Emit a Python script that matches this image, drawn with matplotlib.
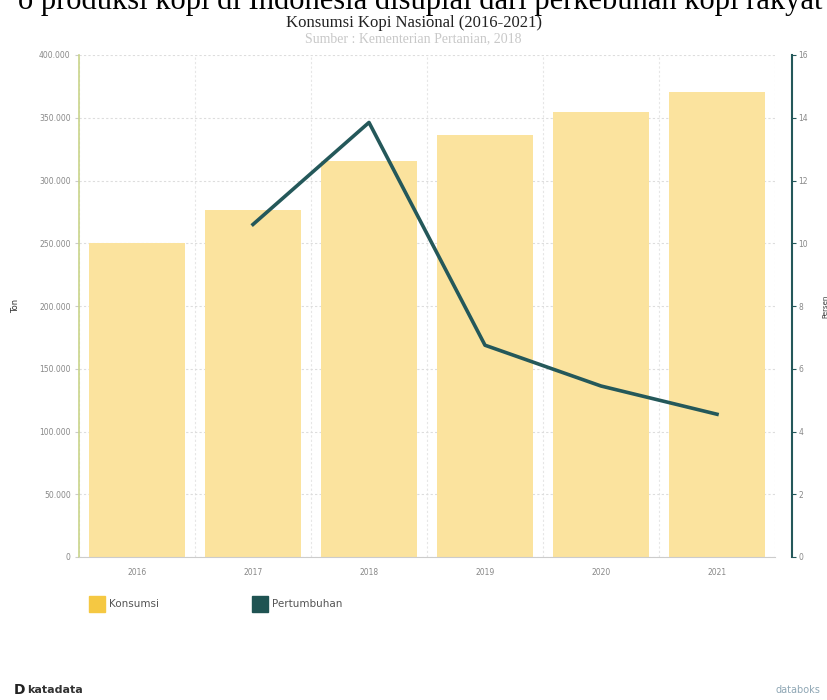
import matplotlib
matplotlib.use("Agg")
import matplotlib.pyplot as plt
from matplotlib.patches import Rectangle
import numpy as np

years = ["2016", "2017", "2018", "2019", "2020", "2021"]
konsumsi = [250000, 276500, 315500, 336500, 354500, 370500]
growth_years = ["2017", "2018", "2019", "2020", "2021"]
pertumbuhan = [10.6, 13.85, 6.75, 5.45, 4.55]
left_ticks = [0, 50000, 100000, 150000, 200000, 250000, 300000, 350000, 400000]
right_ticks = [0, 2, 4, 6, 8, 10, 12, 14, 16]

bar_color = "#FBE39E"
line_color = "#24585A"
tick_col = "#888888"

fig = plt.figure(figsize=(8.27, 7.0), dpi=100)
ax = fig.add_axes([79/827, 1-557/700, (775-79)/827, (557-55)/700])
x = np.arange(len(years))
ax.bar(x, konsumsi, width=0.83, color=bar_color, zorder=2)
ax.set_xlim(-0.5, len(years) - 0.5)
ax.set_ylim(0, 400000)
ax.set_yticks(left_ticks)
ax.set_yticklabels([f"{v:,}".replace(",", ".") for v in left_ticks])
ax.set_xticks(x)
ax.set_xticklabels(years)
ax.set_xticks(np.arange(-0.5, len(years), 1), minor=True)
ax.grid(axis="y", color="#dddddd", linestyle=(0, (2, 2)), linewidth=0.8, zorder=0)
ax.grid(axis="x", which="minor", color="#e6e6e6", linestyle=(0, (2, 2)), linewidth=0.8, zorder=0)
ax.tick_params(axis="x", which="both", length=0, pad=8, labelsize=5.5, labelcolor=tick_col)
ax.tick_params(axis="y", length=3, color="#cccccc", pad=3, labelsize=5.5, labelcolor=tick_col)
for s in ["top", "right"]:
    ax.spines[s].set_visible(False)
ax.spines["left"].set_color("#C9D48A")
ax.spines["left"].set_linewidth(1.2)
ax.spines["bottom"].set_color("#cccccc")
ax.spines["bottom"].set_linewidth(0.8)
ax.set_ylabel("Ton", fontsize=6, color="#333333", labelpad=14)

ax2 = ax.twinx()
gx = [years.index(y) for y in growth_years]
ax2.plot(gx, pertumbuhan, color=line_color, linewidth=2.6, zorder=5)
ax2.set_ylim(0, 16)
ax2.set_yticks(right_ticks)
ax2.set_yticklabels([str(v) for v in right_ticks])
for s in ["top", "left", "bottom"]:
    ax2.spines[s].set_visible(False)
ax2.spines["right"].set_position(("outward", 12))
ax2.spines["right"].set_color(line_color)
ax2.spines["right"].set_linewidth(1.5)
ax2.tick_params(axis="y", length=3, color=line_color, pad=2, labelsize=5.5, labelcolor=tick_col)
ax2.set_ylabel("Persen", fontsize=5, color="#333333", labelpad=10)

# cut-off header text from surrounding page
fig.text(0.508, 1 - 9/700, "o produksi kopi di Indonesia disuplai dari perkebunan kopi rakyat",
         ha="center", va="baseline", fontsize=22, family="Liberation Serif", color="black")
fig.text(0.5, 1 - 23/700, "Konsumsi Kopi Nasional (2016-2021)", ha="center", va="center",
         fontsize=12, family="Liberation Serif", color="#222222")
fig.text(0.5, 1 - 39/700, "Sumber : Kementerian Pertanian, 2018", ha="center", va="center",
         fontsize=10, family="Liberation Serif", color="#c8c8c8")

# legend
fig.patches.append(Rectangle((89/827, 1-612/700), 16/827, 16/700, transform=fig.transFigure,
                             color="#F5C842", figure=fig))
fig.text(109/827, 1-604/700, "Konsumsi", fontsize=7.5, color="#555555", va="center")
fig.patches.append(Rectangle((252/827, 1-612/700), 16/827, 16/700, transform=fig.transFigure,
                             color="#1F5352", figure=fig))
fig.text(272/827, 1-604/700, "Pertumbuhan", fontsize=7.5, color="#555555", va="center")

# logos
fig.text(14/827, 1-690/700, "D", fontsize=10, fontweight="bold", color="#222222", va="center")
fig.text(27/827, 1-690/700, "katadata", fontsize=8, fontweight="bold", color="#333333", va="center")
fig.text(820/827, 1-690/700, "databoks", fontsize=7, color="#8fa7b5", va="center", ha="right")

fig.savefig("out.png", dpi=100)
